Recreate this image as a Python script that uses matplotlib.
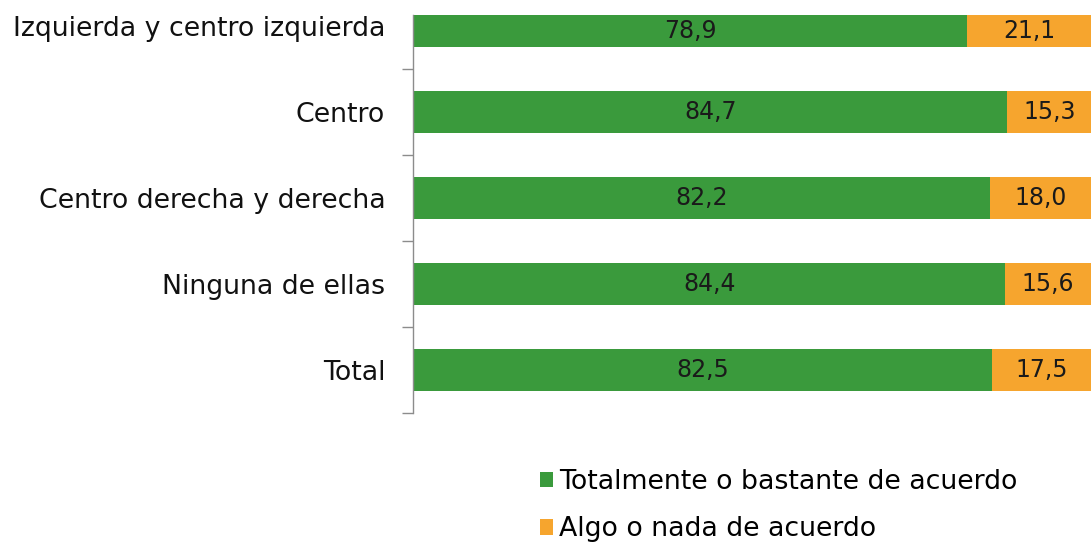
import matplotlib.pyplot as plt
from matplotlib.patches import Patch

# data (top to bottom as in the chart)
categories = ['Izquierda y centro izquierda', 'Centro', 'Centro derecha y derecha',
              'Ninguna de ellas', 'Total']
acuerdo = [78.9, 84.7, 82.2, 84.4, 82.5]
desacuerdo = [21.1, 15.3, 18.0, 15.6, 17.5]
series_names = ['Totalmente o bastante de acuerdo', 'Algo o nada de acuerdo']

green = '#3a9a3c'
orange = '#f6a52e'

fig = plt.figure(figsize=(10.91, 5.45), dpi=100)
ax = fig.add_axes([413 / 1091, 1 - 413 / 545, 1 - 413 / 1091, (413 - 15) / 545])

# bottom category first so the list reads top-down
cats = categories[::-1]
a = acuerdo[::-1]
d = desacuerdo[::-1]
pos = list(range(len(cats)))

b1 = ax.barh(pos, a, height=0.49, color=green)
b2 = ax.barh(pos, d, left=a, height=0.49, color=orange)

fmt = lambda v: f'{v:.1f}'.replace('.', ',')
lab_font = dict(family=['Liberation Sans Narrow', 'DejaVu Sans'], size=17, color='#1a1a1a')
ax.bar_label(b1, labels=[fmt(v) for v in a], label_type='center', **lab_font)
ax.bar_label(b2, labels=[fmt(v) for v in d], label_type='center', **lab_font)

ax.set_xlim(0, 96.6)
ax.set_ylim(-0.5, 4.13)

for s in ['top', 'right', 'bottom']:
    ax.spines[s].set_visible(False)
ax.spines['left'].set_color('#8c8c8c')
ax.spines['left'].set_linewidth(1.0)
ax.set_xticks([])

ax.set_yticks(pos)
ax.set_yticklabels(cats, fontsize=19.3, family='DejaVu Sans', color='#111111')
ax.tick_params(axis='y', which='major', length=0, pad=20)
ax.set_yticks([p - 0.5 for p in pos], minor=True)
ax.tick_params(axis='y', which='minor', length=8, color='#8c8c8c', width=1.0)

handles = [Patch(facecolor=green), Patch(facecolor=orange)]
fig.legend(handles, series_names, loc='upper left', bbox_to_anchor=(540 / 1091, 1 - 469 / 545),
           frameon=False, handlelength=0.5, handleheight=0.5,
           handletextpad=0.2, labelspacing=0.8, borderpad=0, borderaxespad=0,
           prop=dict(family='DejaVu Sans', size=19.3))

fig.savefig('out.png', dpi=100, facecolor='white')
